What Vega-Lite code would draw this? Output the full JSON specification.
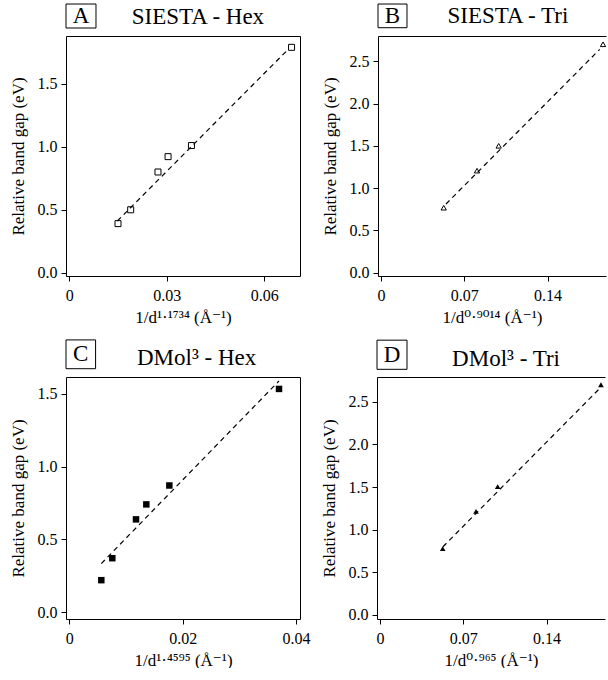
{
  "$schema": "https://vega.github.io/schema/vega-lite/v6.json",
  "padding": {"left": 9, "top": 3, "right": 0, "bottom": 0},
  "background": "white",
  "config": {
    "font": "Liberation Serif",
    "view": {"stroke": null},
    "axis": {
      "labelFont": "Liberation Serif", "titleFont": "Liberation Serif, DejaVu Serif",
      "labelFontSize": 16, "titleFontSize": 17, "titleFontWeight": "normal",
      "labelColor": "black", "titleColor": "black", "tickColor": "black", "domainColor": "black",
      "grid": false, "tickSize": 5, "domainWidth": 1, "tickWidth": 1
    },
    "axisX": {"labelPadding": 6, "titlePadding": 6},
    "axisY": {"labelPadding": 4, "titlePadding": 10},
    "text": {"font": "Liberation Serif", "fontSize": 23, "fontWeight": "normal", "color": "black"}
  },
  "datasets": {
    "A_pts": [{"x": 0.0150, "y": 0.39}, {"x": 0.0189, "y": 0.50}, {"x": 0.0273, "y": 0.80}, {"x": 0.0304, "y": 0.922}, {"x": 0.0376, "y": 1.01}, {"x": 0.0684, "y": 1.79}],
    "A_fit": [{"x": 0.0148, "y": 0.411}, {"x": 0.0669, "y": 1.762}],
    "B_pts": [{"x": 0.0527, "y": 0.768}, {"x": 0.0807, "y": 1.206}, {"x": 0.0989, "y": 1.50}, {"x": 0.1866, "y": 2.70}],
    "B_fit": [{"x": 0.0546, "y": 0.812}, {"x": 0.1838, "y": 2.64}],
    "C_pts": [{"x": 0.00565, "y": 0.219}, {"x": 0.00759, "y": 0.37}, {"x": 0.01177, "y": 0.637}, {"x": 0.01359, "y": 0.740}, {"x": 0.01765, "y": 0.870}, {"x": 0.0370, "y": 1.534}],
    "C_fit": [{"x": 0.00565, "y": 0.333}, {"x": 0.0370, "y": 1.589}],
    "D_pts": [{"x": 0.0527, "y": 0.778}, {"x": 0.0807, "y": 1.215}, {"x": 0.0989, "y": 1.505}, {"x": 0.1857, "y": 2.70}],
    "D_fit": [{"x": 0.0529, "y": 0.80}, {"x": 0.1838, "y": 2.645}],
    "A_lab": [{"letter": "A", "title": "SIESTA - Hex"}],
    "B_lab": [{"letter": "B", "title": "SIESTA - Tri"}],
    "C_lab": [{"letter": "C", "title": "DMol³ - Hex"}],
    "D_lab": [{"letter": "D", "title": "DMol³ - Tri"}]
  },
  "spacing": 14,
  "vconcat": [
    {
      "spacing": 21,
      "hconcat": [
        {
          "width": 234, "height": 240,
          "resolve": {"axis": {"x": "independent", "y": "independent"}},
          "layer": [
            {
              "data": {"name": "A_pts"},
              "mark": {"type": "point", "shape": "square", "filled": false, "color": "black", "size": 36, "strokeWidth": 1, "opacity": 1},
              "encoding": {
                "x": {"field": "x", "type": "quantitative", "scale": {"domain": [-0.001, 0.071], "nice": false, "zero": false},
                      "axis": {"values": [0, 0.03, 0.06], "labelExpr": "datum.value == 0 ? '0' : format(datum.value, '.2f')", "title": "1/d¹·¹⁷³⁴ (Å⁻¹)"}},
                "y": {"field": "y", "type": "quantitative", "scale": {"domain": [-0.026, 1.88], "nice": false, "zero": false},
                      "axis": {"values": [0, 0.5, 1, 1.5], "format": ".1f", "title": "Relative band gap (eV)"}}
              }
            },
            {
              "data": {"name": "A_fit"},
              "mark": {"type": "line", "color": "black", "strokeDash": [5, 4], "strokeWidth": 1.2},
              "encoding": {
                "x": {"field": "x", "type": "quantitative", "axis": {"orient": "top", "labels": false, "ticks": false, "title": null}},
                "y": {"field": "y", "type": "quantitative", "axis": {"orient": "right", "labels": false, "ticks": false, "title": null}}
              }
            },
            {
              "data": {"name": "A_lab"},
              "mark": {"type": "rect", "filled": false, "color": "black", "strokeWidth": 1},
              "encoding": {
                "x": {"datum": -0.001, "type": "quantitative", "axis": null}, "x2": {"datum": 0.00823},
                "y": {"datum": 1.9435, "type": "quantitative", "axis": null}, "y2": {"datum": 2.134}
              }
            },
            {
              "data": {"name": "A_lab"},
              "mark": {"type": "text", "align": "center", "baseline": "middle"},
              "encoding": {
                "x": {"datum": 0.0036, "type": "quantitative", "axis": null},
                "y": {"datum": 2.039, "type": "quantitative", "axis": null},
                "text": {"field": "letter"}
              }
            },
            {
              "data": {"name": "A_lab"},
              "mark": {"type": "text", "align": "center", "baseline": "alphabetic"},
              "encoding": {
                "x": {"datum": 0.0396, "type": "quantitative", "axis": null},
                "y": {"datum": 1.978, "type": "quantitative", "axis": null},
                "text": {"field": "title"}
              }
            }
          ]
        },
        {
          "width": 228, "height": 240,
          "resolve": {"axis": {"x": "independent", "y": "independent"}},
          "layer": [
            {
              "data": {"name": "B_pts"},
              "mark": {"type": "point", "shape": "triangle-up", "filled": false, "color": "black", "size": 28, "strokeWidth": 1, "opacity": 1},
              "encoding": {
                "x": {"field": "x", "type": "quantitative", "scale": {"domain": [-0.00252, 0.1891], "nice": false, "zero": false},
                      "axis": {"values": [0, 0.07, 0.14], "labelExpr": "datum.value == 0 ? '0' : format(datum.value, '.2f')", "title": "1/d⁰·⁹⁰¹⁴ (Å⁻¹)"}},
                "y": {"field": "y", "type": "quantitative", "scale": {"domain": [-0.039, 2.798], "nice": false, "zero": false},
                      "axis": {"values": [0, 0.5, 1, 1.5, 2, 2.5], "format": ".1f", "title": "Relative band gap (eV)"}}
              }
            },
            {
              "data": {"name": "B_fit"},
              "mark": {"type": "line", "color": "black", "strokeDash": [5, 4], "strokeWidth": 1.2},
              "encoding": {
                "x": {"field": "x", "type": "quantitative", "axis": {"orient": "top", "labels": false, "ticks": false, "title": null}},
                "y": {"field": "y", "type": "quantitative", "axis": null}
              }
            },
            {
              "data": {"name": "B_lab"},
              "mark": {"type": "rect", "filled": false, "color": "black", "strokeWidth": 1},
              "encoding": {
                "x": {"datum": -0.00252, "type": "quantitative", "axis": null}, "x2": {"datum": 0.02185},
                "y": {"datum": 2.896, "type": "quantitative", "axis": null}, "y2": {"datum": 3.176}
              }
            },
            {
              "data": {"name": "B_lab"},
              "mark": {"type": "text", "align": "center", "baseline": "middle"},
              "encoding": {
                "x": {"datum": 0.00966, "type": "quantitative", "axis": null},
                "y": {"datum": 3.034, "type": "quantitative", "axis": null},
                "text": {"field": "letter"}
              }
            },
            {
              "data": {"name": "B_lab"},
              "mark": {"type": "text", "align": "center", "baseline": "alphabetic"},
              "encoding": {
                "x": {"datum": 0.1067, "type": "quantitative", "axis": null},
                "y": {"datum": 2.955, "type": "quantitative", "axis": null},
                "text": {"field": "title"}
              }
            }
          ]
        }
      ]
    },
    {
      "spacing": 9,
      "hconcat": [
        {
          "width": 234, "height": 242,
          "resolve": {"axis": {"x": "independent", "y": "independent"}},
          "layer": [
            {
              "data": {"name": "C_pts"},
              "mark": {"type": "point", "shape": "square", "filled": true, "color": "black", "size": 42, "opacity": 1},
              "encoding": {
                "x": {"field": "x", "type": "quantitative", "scale": {"domain": [-0.00058, 0.0407], "nice": false, "zero": false},
                      "axis": {"values": [0, 0.02, 0.04], "labelExpr": "datum.value == 0 ? '0' : format(datum.value, '.2f')", "title": "1/d¹·⁴⁵⁹⁵ (Å⁻¹)"}},
                "y": {"field": "y", "type": "quantitative", "scale": {"domain": [-0.048, 1.616], "nice": false, "zero": false},
                      "axis": {"values": [0, 0.5, 1, 1.5], "format": ".1f", "title": "Relative band gap (eV)"}}
              }
            },
            {
              "data": {"name": "C_fit"},
              "mark": {"type": "line", "color": "black", "strokeDash": [5, 4], "strokeWidth": 1.2},
              "encoding": {
                "x": {"field": "x", "type": "quantitative", "axis": {"orient": "top", "labels": false, "ticks": false, "title": null}},
                "y": {"field": "y", "type": "quantitative", "axis": {"orient": "right", "labels": false, "ticks": false, "title": null}}
              }
            },
            {
              "data": {"name": "C_lab"},
              "mark": {"type": "rect", "filled": false, "color": "black", "strokeWidth": 1},
              "encoding": {
                "x": {"datum": -0.00058, "type": "quantitative", "axis": null}, "x2": {"datum": 0.00464},
                "y": {"datum": 1.673, "type": "quantitative", "axis": null}, "y2": {"datum": 1.871}
              }
            },
            {
              "data": {"name": "C_lab"},
              "mark": {"type": "text", "align": "center", "baseline": "middle"},
              "encoding": {
                "x": {"datum": 0.00203, "type": "quantitative", "axis": null},
                "y": {"datum": 1.773, "type": "quantitative", "axis": null},
                "text": {"field": "letter"}
              }
            },
            {
              "data": {"name": "C_lab"},
              "mark": {"type": "text", "align": "center", "baseline": "alphabetic"},
              "encoding": {
                "x": {"datum": 0.02246, "type": "quantitative", "axis": null},
                "y": {"datum": 1.696, "type": "quantitative", "axis": null},
                "text": {"field": "title"}
              }
            }
          ]
        },
        {
          "width": 228, "height": 242,
          "resolve": {"axis": {"x": "independent", "y": "independent"}},
          "layer": [
            {
              "data": {"name": "D_pts"},
              "mark": {"type": "point", "shape": "triangle-up", "filled": true, "color": "black", "size": 32, "opacity": 1},
              "encoding": {
                "x": {"field": "x", "type": "quantitative", "scale": {"domain": [-0.00252, 0.1891], "nice": false, "zero": false},
                      "axis": {"values": [0, 0.07, 0.14], "labelExpr": "datum.value == 0 ? '0' : format(datum.value, '.2f')", "title": "1/d⁰·⁹⁶⁵ (Å⁻¹)"}},
                "y": {"field": "y", "type": "quantitative", "scale": {"domain": [-0.047, 2.791], "nice": false, "zero": false},
                      "axis": {"values": [0, 0.5, 1, 1.5, 2, 2.5], "format": ".1f", "title": "Relative band gap (eV)"}}
              }
            },
            {
              "data": {"name": "D_fit"},
              "mark": {"type": "line", "color": "black", "strokeDash": [5, 4], "strokeWidth": 1.2},
              "encoding": {
                "x": {"field": "x", "type": "quantitative", "axis": {"orient": "top", "labels": false, "ticks": false, "title": null}},
                "y": {"field": "y", "type": "quantitative", "axis": null}
              }
            },
            {
              "data": {"name": "D_lab"},
              "mark": {"type": "rect", "filled": false, "color": "black", "strokeWidth": 1},
              "encoding": {
                "x": {"datum": -0.00252, "type": "quantitative", "axis": null}, "x2": {"datum": 0.0227},
                "y": {"datum": 2.881, "type": "quantitative", "axis": null}, "y2": {"datum": 3.223}
              }
            },
            {
              "data": {"name": "D_lab"},
              "mark": {"type": "text", "align": "center", "baseline": "middle"},
              "encoding": {
                "x": {"datum": 0.0101, "type": "quantitative", "axis": null},
                "y": {"datum": 3.054, "type": "quantitative", "axis": null},
                "text": {"field": "letter"}
              }
            },
            {
              "data": {"name": "D_lab"},
              "mark": {"type": "text", "align": "center", "baseline": "alphabetic"},
              "encoding": {
                "x": {"datum": 0.1059, "type": "quantitative", "axis": null},
                "y": {"datum": 2.921, "type": "quantitative", "axis": null},
                "text": {"field": "title"}
              }
            }
          ]
        }
      ]
    }
  ]
}
